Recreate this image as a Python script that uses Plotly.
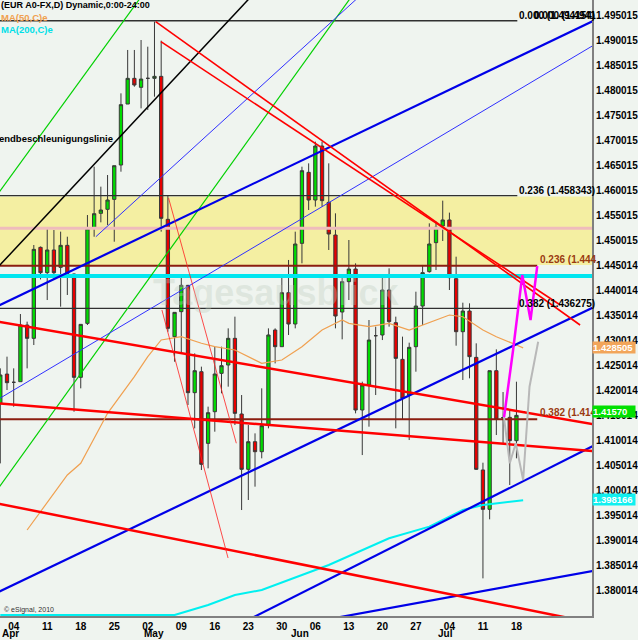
import plotly.graph_objects as go

# ---------------- data (bar index 0 = 1 Apr 2010, daily bars) ----------------
bar_index = list(range(79))
bar_open = [1.41739, 1.42326, 1.42160, 1.42173, 1.43308, 1.43041, 1.44863, 1.44356, 1.44810, 1.44462,
            1.44903, 1.44329, 1.42260, 1.43341, 1.45243, 1.45544, 1.45624, 1.45824, 1.46512, 1.47733,
            1.48247, 1.48067, 1.48247, 1.48247, 1.48287, 1.45424, 1.43074, 1.43575, 1.44102, 1.41953,
            1.42373, 1.40938, 1.41572, 1.42340, 1.42507, 1.43041, 1.41526, 1.40418, 1.40971, 1.40771,
            1.41305, 1.43208, 1.42874, 1.43955, 1.43328, 1.44943, 1.46365, 1.45811, 1.46892, 1.45764,
            1.45110, 1.43568, 1.44176, 1.44429, 1.41606, 1.42106, 1.43094, 1.43108, 1.44009, 1.43355,
            1.42620, 1.41906, 1.42874, 1.43688, 1.44376, 1.44957, 1.45291, 1.45411, 1.44236, 1.43174,
            1.43588, 1.42660, 1.40405, 1.39617, 1.42393, 1.41452, 1.41459, 1.40992, 1.41560]
bar_high = [1.42440, 1.42674, 1.42440, 1.43528, 1.43375, 1.44910, 1.44880, 1.45243, 1.45210, 1.45177,
            1.45076, 1.44340, 1.43321, 1.45510, 1.46478, 1.46078, 1.46311, 1.46498, 1.47947, 1.48815,
            1.48815, 1.49015, 1.48881, 1.49382, 1.49002, 1.45911, 1.43561, 1.44276, 1.44110, 1.42740,
            1.42474, 1.41673, 1.42874, 1.42874, 1.43241, 1.43475, 1.41906, 1.41305, 1.41138, 1.42040,
            1.43241, 1.43241, 1.44262, 1.44610, 1.45177, 1.46478, 1.46545, 1.46979, 1.46979, 1.46545,
            1.45544, 1.44262, 1.45010, 1.44543, 1.42173, 1.43408, 1.43274, 1.44276, 1.44443, 1.43475,
            1.43075, 1.42954, 1.43975, 1.44510, 1.45344, 1.45377, 1.45798, 1.45558, 1.44676, 1.43755,
            1.43742, 1.42941, 1.40551, 1.42393, 1.42821, 1.41966, 1.41606, 1.42173, 1.41580]
bar_low = [1.40537, 1.42006, 1.41672, 1.42173, 1.42440, 1.42907, 1.44222, 1.43808, 1.44209, 1.43675,
           1.43909, 1.41572, 1.42040, 1.43308, 1.45076, 1.45364, 1.45310, 1.44976, 1.46378, 1.47733,
           1.48080, 1.47646, 1.47613, 1.47880, 1.45177, 1.43174, 1.42573, 1.42740, 1.41706, 1.41238,
           1.40404, 1.40438, 1.41172, 1.41940, 1.42073, 1.41305, 1.39603, 1.39804, 1.40071, 1.40638,
           1.41239, 1.42540, 1.42874, 1.43108, 1.43241, 1.44543, 1.45611, 1.45678, 1.45678, 1.44810,
           1.43241, 1.43021, 1.43808, 1.41539, 1.40704, 1.41272, 1.41906, 1.43007, 1.43275, 1.41239,
           1.41406, 1.41005, 1.42373, 1.43308, 1.44356, 1.44409, 1.44990, 1.44009, 1.42894, 1.42207,
           1.42240, 1.40405, 1.38235, 1.39417, 1.41105, 1.40939, 1.40104, 1.40638, 1.41550]
bar_close = [1.42307, 1.42153, 1.42160, 1.43308, 1.43041, 1.44823, 1.44356, 1.44810, 1.44356, 1.44903,
             1.44342, 1.42260, 1.43321, 1.45237, 1.45537, 1.45610, 1.45811, 1.46498, 1.47720, 1.48247,
             1.48114, 1.48233, 1.48247, 1.48287, 1.45444, 1.43241, 1.43561, 1.44102, 1.41953, 1.42393,
             1.40518, 1.41552, 1.42327, 1.42494, 1.43041, 1.41539, 1.40418, 1.40971, 1.40771, 1.41292,
             1.43108, 1.42874, 1.43955, 1.43328, 1.44930, 1.46398, 1.45811, 1.46892, 1.45798, 1.45130,
             1.43488, 1.44176, 1.44429, 1.41606, 1.42106, 1.43007, 1.43094, 1.44009, 1.43375, 1.42640,
             1.41840, 1.42861, 1.43688, 1.44356, 1.44930, 1.45264, 1.45411, 1.44256, 1.43174, 1.43588,
             1.42674, 1.40418, 1.39617, 1.42393, 1.41419, 1.41452, 1.40992, 1.41499, 1.41570]

# moving averages
ma50_idx = [4, 10, 12, 16, 20, 22, 24, 27, 30, 32, 35, 39, 42, 45, 48, 51, 52, 55, 58, 61, 67, 69, 72, 74, 77, 78]
ma50_val = [1.39203, 1.40305, 1.40539, 1.41540, 1.42273, 1.42673, 1.43008, 1.43074, 1.42942, 1.42874,
            1.42808, 1.42541, 1.42607, 1.42874, 1.43208, 1.43408, 1.43342, 1.43274, 1.43342, 1.43208,
            1.43508, 1.43474, 1.43208, 1.43074, 1.42908, 1.42851]
ma200_idx = [0, 26, 31, 35, 39, 49, 58, 64, 69, 72, 78]
ma200_val = [1.3750, 1.3750, 1.37701, 1.37901, 1.38002, 1.38502, 1.39037, 1.39270, 1.39604, 1.39704, 1.39800]

# projected paths
proj_up_idx = [75.15, 76.5, 77.87, 79.1, 80.1]
proj_up_val = [1.41460, 1.42808, 1.44309, 1.43408, 1.44489]
proj_alt_idx = [75, 76, 76.9, 78.0, 78.95, 80.24]
proj_alt_val = [1.41606, 1.40539, 1.40939, 1.40204, 1.42072, 1.42973]

# trend lines (bar index, price) pairs
accel_x, accel_y = [-1, 40], [1.44373, 1.50256]
green_up_x, green_up_y = [-1, 25], [1.45814, 1.50617]
green_lo_x, green_lo_y = [-1, 55], [1.39905, 1.50372]
blue_chan_hi_x, blue_chan_hi_y = [-1, 90], [1.43648, 1.49496]
blue_chan_lo_x, blue_chan_lo_y = [-1, 90], [1.37915, 1.43760]
blue_thin_a_x, blue_thin_a_y = [-1, 90], [1.41766, 1.49030]
blue_thin_b_x, blue_thin_b_y = [14.26, 60], [1.45076, 1.50675]
blue_sup_x, blue_sup_y = [36, 90], [1.37338, 1.40992]
blue_floor_x, blue_floor_y = [50, 90], [1.37443, 1.38424]
red_res1_x, red_res1_y = [-1, 90], [1.43391, 1.41287]
red_res2_x, red_res2_y = [-1, 90], [1.41747, 1.40768]
red_res3_x, red_res3_y = [-1, 90], [1.39751, 1.37301]
red_peak_a_x, red_peak_a_y = [23.18, 86.49], [1.49381, 1.43308]
red_peak_b_x, red_peak_b_y = [23.96, 83.54], [1.48981, 1.43709]
red_thin_a_x, red_thin_a_y = [25.1, 35.21], [1.45851, 1.40940]
red_thin_b_x, red_thin_b_y = [24.11, 33.98], [1.43609, 1.38642]

# horizontal levels
fib_black_levels = [1.4940, 1.4590, 1.4364]
fib_black_labels = ["0.000 (1.494154)", "0.236 (1.458343)", "0.382 (1.436275)"]
fib_black_end = 77.13
fib_brown_levels = [1.44495, 1.41420]
fib_brown_labels = ["0.236 (1.444", "0.382 (1.414"]
fib_brown_end = 80.1
pink_level = 1.45244
cyan_level = 1.44289
band_low, band_high = 1.4451, 1.4588

# axis ticks
x_tick_idx = [2, 7, 12, 17, 22, 27, 32, 37, 42, 47, 52, 57, 62, 67, 72, 77]
x_tick_day = ["04", "11", "18", "25", "02", "09", "16", "23", "30", "06", "13", "20", "27", "04", "11", "18"]
month_idx = [0, 21.1, 43, 65]
month_names = ["Apr", "May", "Jun", "Jul"]
y_tick_text = ["1.380014", "1.385014", "1.390014", "1.395014", "1.400014", "1.405014", "1.410014",
               "1.415014", "1.420014", "1.425014", "1.430014", "1.435014", "1.440014", "1.445014",
               "1.450015", "1.455015", "1.460015", "1.465015", "1.470015", "1.475015", "1.480015",
               "1.485015", "1.490015", "1.495015"]
y_tick_vals = [float(t) for t in y_tick_text]

last_ma50, last_price, last_ma200 = 1.428505, 1.41570, 1.398166

# ---------------- figure ----------------
BG = "#eff4ef"
PW, PH = 597.0, 616.0
FONT = "Arial"


def fx(px):
    return px / PW


def fy(py):
    return 1 - py / PH


fig = go.Figure()

fig.add_shape(type="rect", xref="paper", x0=0, x1=1, yref="y", y0=band_low, y1=band_high,
              fillcolor="#f4efa2", line=dict(width=0), layer="below")

fig.add_trace(go.Candlestick(
    x=bar_index, open=bar_open, high=bar_high, low=bar_low, close=bar_close,
    increasing=dict(fillcolor="#00dc00", line=dict(color="#383838", width=1)),
    decreasing=dict(fillcolor="#e80000", line=dict(color="#383838", width=1)),
    whiskerwidth=0, showlegend=False, hoverinfo="skip"))


def line(xs, ys, color, width, dash=None):
    fig.add_trace(go.Scatter(x=xs, y=ys, mode="lines",
                             line=dict(color=color, width=width, dash=dash),
                             showlegend=False, hoverinfo="skip"))


# horizontal levels
line([-1, 90], [pink_level, pink_level], "#efbcbc", 3)
line([-1, 90], [cyan_level, cyan_level], "#00e6f0", 4)
for lv in fib_black_levels:
    line([-1, fib_black_end], [lv, lv], "#303030", 1.3)
for lv in fib_brown_levels:
    line([-1, fib_brown_end], [lv, lv], "#8b1e10", 2)

# moving averages
line(ma50_idx, ma50_val, "#f0a050", 1.2)
line(ma200_idx, ma200_val, "#00f0f0", 2)

# trend lines
line(accel_x, accel_y, "#000000", 1.5)
line(green_up_x, green_up_y, "#00d000", 1.2)
line(green_lo_x, green_lo_y, "#00d000", 1.2)
line(blue_thin_a_x, blue_thin_a_y, "#3030ff", 1)
line(blue_thin_b_x, blue_thin_b_y, "#3030ff", 1)
line(blue_chan_hi_x, blue_chan_hi_y, "#0000e8", 2.2)
line(blue_chan_lo_x, blue_chan_lo_y, "#0000e8", 2.2)
line(blue_sup_x, blue_sup_y, "#0000e8", 2.2)
line(blue_floor_x, blue_floor_y, "#0000e8", 2.2)
line(red_res1_x, red_res1_y, "#ff0000", 2.5)
line(red_res2_x, red_res2_y, "#ff0000", 2.5)
line(red_res3_x, red_res3_y, "#ff0000", 2.5)
line(red_peak_a_x, red_peak_a_y, "#ff0000", 1.6)
line(red_peak_b_x, red_peak_b_y, "#ff0000", 1.6)
line(red_thin_a_x, red_thin_a_y, "#ff2020", 0.8)
line(red_thin_b_x, red_thin_b_y, "#ff2020", 0.8)

# projections
line(proj_alt_idx, proj_alt_val, "#b8b8b8", 2)
line(proj_up_idx, proj_up_val, "#ff00ff", 2.5)

ann = []
bold = dict(family=FONT, size=10, color="#000000", weight="bold")

# fib labels
for lv, lab in zip(fib_black_levels, fib_black_labels):
    ann.append(dict(x=fib_black_end, y=lv + 0.001, xref="x", yref="y", text=lab, showarrow=False,
                    xanchor="left", yanchor="middle", font=bold))
ann.append(dict(x=fib_black_end + 2.2, y=fib_black_levels[0] + 0.001, xref="x", yref="y",
                text="0.000 (1.4941", showarrow=False, xanchor="left", yanchor="middle", font=bold))
for lv, lab in zip(fib_brown_levels, fib_brown_labels):
    ann.append(dict(x=fib_brown_end + 0.15, y=lv + 0.0013, xref="x", yref="y", text=lab, showarrow=False,
                    xanchor="left", yanchor="middle", font=dict(family=FONT, size=10, color="#9a3a10", weight="bold")))

# header / legend
ann.append(dict(x=fx(-1), y=fy(5), xref="paper", yref="paper", text="(EUR A0-FX,D) Dynamic,0:00-24:00",
                showarrow=False, xanchor="left", yanchor="middle", font=dict(family=FONT, size=9, color="#000", weight="bold")))
ann.append(dict(x=fx(-1), y=fy(17), xref="paper", yref="paper", text="MA(50,C)e",
                showarrow=False, xanchor="left", yanchor="middle", font=dict(family=FONT, size=9.5, color="#f0a050", weight="bold")))
ann.append(dict(x=fx(-1), y=fy(30), xref="paper", yref="paper", text="MA(200,C)e",
                showarrow=False, xanchor="left", yanchor="middle", font=dict(family=FONT, size=9.5, color="#00e0e8", weight="bold")))
ann.append(dict(x=fx(116), y=fy(138), xref="paper", yref="paper", text="Trendbeschleunigungslinie",
                showarrow=False, xanchor="right", yanchor="middle",
                font=dict(family=FONT, size=9.5, color="#000000", weight="bold")))
ann.append(dict(x=fx(278), y=fy(292), xref="paper", yref="paper", text="Tagesausblick",
                showarrow=False, xanchor="center", yanchor="middle",
                font=dict(family=FONT, size=36, color="rgba(190,205,190,0.35)", weight="bold")))
ann.append(dict(x=fx(2), y=fy(610), xref="paper", yref="paper", text="© eSignal, 2010",
                showarrow=False, xanchor="left", yanchor="middle", font=dict(family=FONT, size=7, color="#333")))

# month labels
for mi, mn in zip(month_idx, month_names):
    ann.append(dict(x=mi, y=fy(633.5), xref="x", yref="paper", text=mn, showarrow=False,
                    xanchor="left", yanchor="middle", font=bold))

# value boxes on price axis
for val, txt, bg in [(last_ma50, "1.428505", "#f2a55a"), (last_price, "1.41570", "#00e000"),
                     (last_ma200, "1.398166", "#10f0f0")]:
    ann.append(dict(x=1, y=val, xref="paper", yref="y", text=txt, showarrow=False,
                    xanchor="left", yanchor="middle", align="left", bgcolor=bg, borderpad=0,
                    width=42, height=11, font=dict(family=FONT, size=9.5, color="#ffffff", weight="bold")))

fig.update_layout(
    width=638, height=640, margin=dict(l=0, r=41, t=0, b=24),
    paper_bgcolor=BG, plot_bgcolor=BG, showlegend=False, boxgap=0.3,
    annotations=ann,
    xaxis=dict(range=[-0.044, 88.27], rangeslider=dict(visible=False), tickmode="array",
               tickvals=x_tick_idx, ticktext=x_tick_day, ticks="",
               showline=True, linecolor="#808080", linewidth=2, showgrid=False, zeroline=False,
               tickfont=bold),
    yaxis=dict(side="right", range=[1.374811, 1.498159], tickmode="array", tickvals=y_tick_vals,
               ticktext=y_tick_text, ticks="", showline=True, linecolor="#808080", linewidth=2,
               showgrid=False, zeroline=False, tickfont=bold),
)

fig.write_html("out.html", config={"displayModeBar": False},
               post_script="document.body.style.margin='0';document.body.style.overflow='hidden';")
